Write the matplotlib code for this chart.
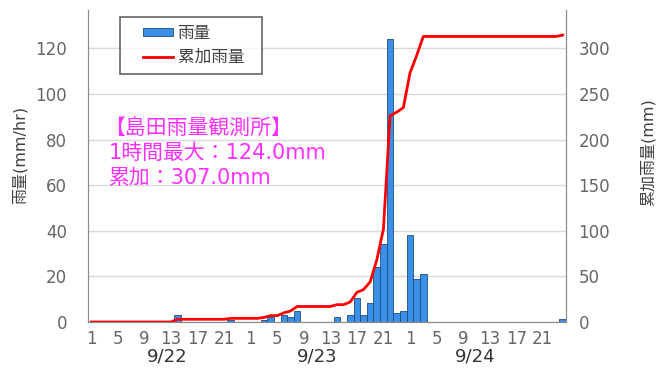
import numpy as np
import matplotlib
matplotlib.use("Agg")
import matplotlib.pyplot as plt
from matplotlib.legend_handler import HandlerPatch, HandlerLine2D

plt.rcParams['font.family'] = ['DejaVu Sans', 'Noto Sans CJK JP']

# hourly rainfall (mm/hr), 9/22 1h .. 9/24 24h
days = ['9/22', '9/23', '9/24']
hour_labels = ['1', '5', '9', '13', '17', '21']
rain = np.zeros(72)
rain_hours = [13, 21, 26, 27, 29, 30, 31, 37, 39, 40, 41, 42, 43, 44, 45,
              46, 47, 48, 49, 50, 71]
rain_values = [3.0, 1.0, 1.0, 2.0, 3.0, 2.0, 5.0, 2.0, 3.0, 10.5, 3.0, 8.5,
               24.0, 34.0, 124.0, 4.0, 5.0, 38.0, 19.0, 21.0, 1.5]
rain[rain_hours] = rain_values
cumulative = np.cumsum(rain)

fig = plt.figure(figsize=(6.58, 3.68), dpi=100)
ax = fig.add_axes([88 / 658, 46 / 368, 478 / 658, 312 / 368])
ax2 = ax.twinx()

x = np.arange(72)
grey = '#666666'
spine_col = '#8C8C8C'

bars = ax.bar(x, rain, width=1.0, color='#3A8FE8', edgecolor='#1F4E79',
              linewidth=0.6, label='雨量', zorder=2)
line, = ax2.plot(x, cumulative, color='#FF0000', lw=2, label='累加雨量')

ax.set_xlim(-0.5, 71.5)
ax.set_ylim(0, 136.8)
ax2.set_ylim(0, 342)
ax.set_yticks(range(0, 121, 20))
ax2.set_yticks(range(0, 301, 50))
ax.yaxis.grid(True, color='#D9D9D9', lw=1, zorder=0)
ax.set_axisbelow(True)

ticks = [d * 24 + int(h) - 1 for d in range(3) for h in hour_labels]
ax.set_xticks(ticks)
ax.set_xticklabels(hour_labels * 3)

for a in (ax, ax2):
    a.spines['top'].set_visible(False)
    for s in ('left', 'right', 'bottom'):
        a.spines[s].set_color(spine_col)
    a.tick_params(length=0, colors=grey, labelsize=12)
ax.tick_params(axis='y', pad=15)
ax.tick_params(axis='x', pad=6)
ax2.tick_params(axis='y', pad=9)

# day labels under the hour labels
for pos, d in zip([11.4, 34.0, 57.8], days):
    ax.text(pos, -0.109, d, transform=ax.get_xaxis_transform(),
            ha='center', va='center', fontsize=13, color='#333333')

fig.text(20 / 658, 1 - 155 / 368, '雨量(mm/hr)', rotation=90,
         ha='center', va='center', fontsize=11.5, color='#404040')
fig.text(648 / 658, 1 - 152 / 368, '累加雨量(mm)', rotation=90,
         ha='center', va='center', fontsize=11.5, color='#404040')

pink = '#FF30FF'
fig.text(104 / 658, 1 - 128 / 368, '【島田雨量観測所】', ha='left', va='center',
         fontsize=15, color=pink)
fig.text(109 / 658, 1 - 153 / 368, '1時間最大：124.0mm', ha='left', va='center',
         fontsize=15, color=pink)
fig.text(109 / 658, 1 - 178 / 368, '累加：307.0mm', ha='left', va='center',
         fontsize=15, color=pink)

leg = ax2.legend([bars[0], line], ['雨量', '累加雨量  '], loc='upper left',
                 bbox_to_anchor=(0.067, 0.978), fontsize=12, frameon=True,
                 fancybox=False, handlelength=2.75, handleheight=0.35,
                 borderpad=0.45, labelspacing=0.35, handletextpad=0.25,
                 borderaxespad=0,
                 handler_map={type(bars[0]): HandlerPatch(xpad=0.95),
                              type(line): HandlerLine2D(xpad=0.95)})
leg.get_frame().set_edgecolor('#404040')
leg.get_frame().set_linewidth(1.2)
for t in leg.get_texts():
    t.set_color('#404040')

fig.savefig('out.png', dpi=100, facecolor='white')
